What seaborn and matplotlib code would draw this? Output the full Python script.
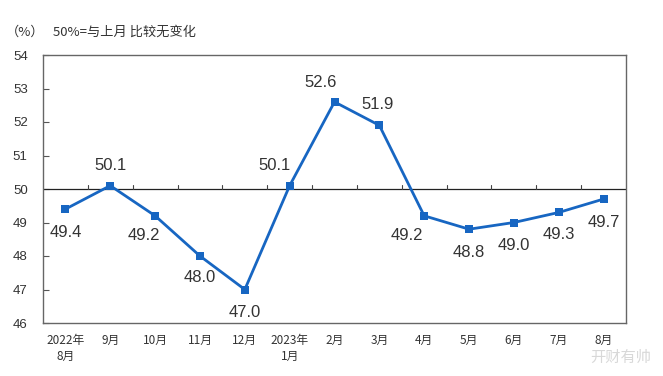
import matplotlib
matplotlib.use("Agg")
import matplotlib.pyplot as plt
import seaborn as sns
import pandas as pd

# ---- data ----
months = ["2022年\n8月", "9月", "10月", "11月", "12月", "2023年\n1月", "2月",
          "3月", "4月", "5月", "6月", "7月", "8月"]
pmi = [49.4, 50.1, 49.2, 48.0, 47.0, 50.1, 52.6, 51.9, 49.2, 48.8, 49.0, 49.3, 49.7]
value_labels = ["49.4", "50.1", "49.2", "48.0", "47.0", "50.1", "52.6", "51.9",
                "49.2", "48.8", "49.0", "49.3", "49.7"]
y_ticks = [46, 47, 48, 49, 50, 51, 52, 53, 54]

# ---- layout (label offsets in pixels, right / up) ----
label_offsets = [(0, -23), (0, 20), (-11, -20), (0, -22), (0, -23), (-15, 20),
                 (-14, 19), (-2, 21), (-17, -20), (0, -23), (0, -23), (0, -22), (0, -23)]

sns.set_theme(style="white")
plt.rcParams["font.family"] = ["Liberation Sans", "Noto Sans CJK SC", "DejaVu Sans"]

df = pd.DataFrame({"idx": list(range(len(pmi))), "pmi": pmi})

fig = plt.figure(figsize=(6.63, 3.76), dpi=100)
ax = fig.add_axes([43 / 663, 1 - 323 / 376, (626 - 43) / 663, (323 - 55) / 376])

line_color = "#1766C2"
sns.lineplot(data=df, x="idx", y="pmi", ax=ax, color=line_color, linewidth=2.0,
             marker="s", markersize=5.5, markeredgewidth=0, markerfacecolor=line_color)

ax.set_xlim(-0.5, len(pmi) - 0.5)
ax.set_ylim(46, 54)
ax.set_yticks(y_ticks)
ax.set_yticklabels([str(t) for t in y_ticks], fontsize=9.5, color="#333333")
ax.set_xticks(range(len(months)))
ax.set_xticklabels(months, fontsize=8.5, color="#333333",
                   family=["Noto Sans CJK SC", "DejaVu Sans"], linespacing=1.3)
ax.set_xlabel("")
ax.set_ylabel("")

ax.tick_params(axis="y", direction="in", length=4, width=0.8, color="#555555",
               left=True, pad=11)
ax.tick_params(axis="x", length=0, pad=8)

for s in ax.spines.values():
    s.set_color("#666666")
    s.set_linewidth(1.0)

# reference line at 50 with boundary tick marks
ax.axhline(50, color="#222222", linewidth=0.9, zorder=1)
for b in range(len(pmi) - 1):
    ax.plot([b + 0.5, b + 0.5], [50, 50.12], color="#444444", linewidth=0.8, zorder=1)

for i, (v, lab) in enumerate(zip(pmi, value_labels)):
    dx, dy = label_offsets[i]
    ax.annotate(lab, (i, v), xytext=(dx, dy), textcoords="offset pixels",
                ha="center", va="center", fontsize=12, color="#333333")

fig.text(6 / 663, 1 - 32 / 376, "（%）", fontsize=9.5, color="#333333",
         va="center", ha="left", family=["Noto Sans CJK SC", "DejaVu Sans"])
fig.text(53 / 663, 1 - 32 / 376, "50%=与上月 比较无变化", fontsize=9.5, color="#333333",
         va="center", ha="left", family=["Noto Sans CJK SC", "DejaVu Sans"])
fig.text(590 / 663, 1 - 357 / 376, "开财有帅", fontsize=11, color="#d8d8d8",
         va="center", ha="left", family=["Noto Sans CJK SC", "DejaVu Sans"])

fig.savefig("out.png", dpi=100)
